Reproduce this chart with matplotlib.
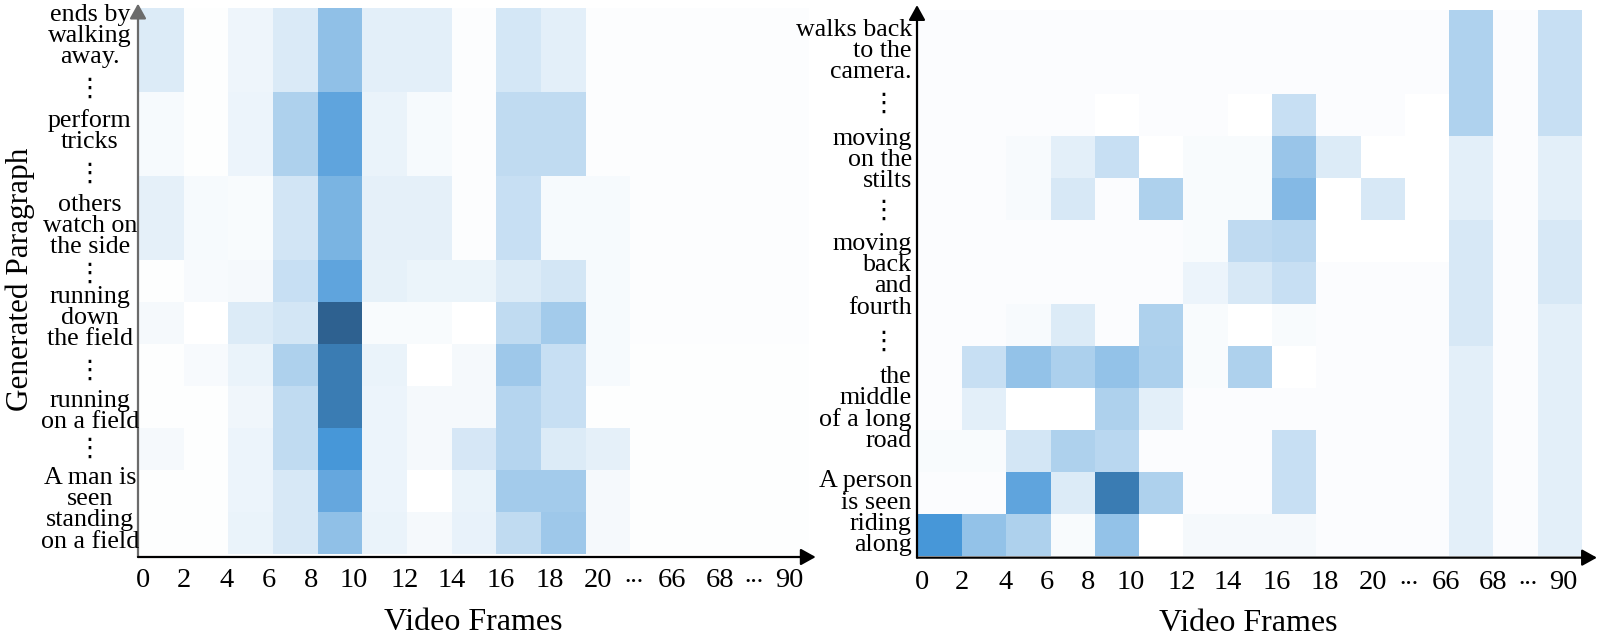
import numpy as np
import matplotlib
matplotlib.use("Agg")
import matplotlib.pyplot as plt
from matplotlib.colors import LinearSegmentedColormap

plt.rcParams['font.family'] = ['Liberation Serif', 'DejaVu Serif', 'DejaVu Sans']

# ---------------- data ----------------
frame_labels = ["0", "2", "4", "6", "8", "10", "12", "14", "16", "18", "20",
                "···", "66", "68", "···", "90"]

left_sentences = ["ends by\nwalking\naway.", "⋮", "perform\ntricks", "⋮",
                  "others\nwatch on\nthe side", "⋮", "running\ndown\nthe field", "⋮",
                  "running\non a field", "⋮", "A man is\nseen\nstanding\non a field"]
right_sentences = ["walks back\nto the\ncamera.", "⋮", "moving\non the\nstilts", "⋮",
                   "moving\nback\nand\nfourth", "⋮", "the\nmiddle\nof a long\nroad",
                   "A person\nis seen\nriding\nalong"]

# attention values (rows top -> bottom, 15 frame columns)
left_attention = [
    [11.5, 0.5, 5.5, 12, 36, 9, 9, 1, 14, 9, 1, 1, 1, 1, 1],
    [11.5, 0.5, 5.5, 12, 36, 9, 9, 1, 14, 9, 1, 1, 1, 1, 1],
    [3, 0.5, 6, 26.5, 52, 7, 3, 1, 20.5, 20.5, 1, 1, 1, 1, 1],
    [3, 0.5, 6, 26.5, 52, 7, 3, 1, 20.5, 20.5, 1, 1, 1, 1, 1],
    [8.5, 3, 2, 14.5, 43, 8.5, 8.5, 1, 18, 3, 3, 1, 1, 1, 1],
    [8.5, 3, 2, 14.5, 43, 8.5, 8.5, 1, 18, 3, 3, 1, 1, 1, 1],
    [0.5, 2.6, 3.3, 18, 52, 8, 6.5, 6.5, 11.5, 14.3, 3, 1, 1, 1, 1],
    [3.3, 0, 11.5, 14.3, 100, 2, 2, 0, 20.5, 30, 3, 1, 1, 1, 1],
    [0.5, 2.6, 7, 26.5, 80, 7, 0, 3.3, 31.5, 18, 3, 0.5, 0.5, 0.5, 0.5],
    [0.5, 0.5, 4.9, 20.5, 80, 6, 3.3, 3.3, 24, 18, 0.5, 0.5, 0.5, 0.5, 0.5],
    [3.3, 0.5, 6, 20.5, 60, 6, 3.3, 13.5, 24, 11.5, 8.5, 0.5, 0.5, 0.5, 0.5],
    [0.5, 0.5, 6, 13, 50, 6, 0, 7, 30, 30, 3.3, 0.5, 0.5, 0.5, 0.5],
    [0.5, 0.5, 7, 13, 36, 7, 3.3, 7.8, 20.5, 31.5, 3.3, 0.5, 0.5, 0.5, 0.5],
]

right_attention = [
    [1.3, 1.3, 1.3, 1.3, 1.3, 1.3, 1.3, 1.3, 1.3, 1.3, 1.3, 1.3, 26, 1.3, 18],
    [1.3, 1.3, 1.3, 1.3, 1.3, 1.3, 1.3, 1.3, 1.3, 1.3, 1.3, 1.3, 26, 1.3, 18],
    [1.3, 1.3, 1.3, 1.3, 0, 1.3, 1.3, 0, 18, 1.3, 1.3, 0, 26, 1.3, 18],
    [1.3, 1.3, 2.6, 9, 18, 0, 2.3, 2.3, 33, 11.5, 0, 0, 9, 1.3, 9],
    [1.3, 1.3, 2.6, 13, 1.5, 26.5, 2.3, 2.3, 40, 0, 13, 0, 9, 1.3, 9],
    [1.3, 1.3, 1.3, 1.3, 1.3, 1.3, 2.3, 21, 23, 0, 0, 0, 13, 1.3, 13],
    [1.3, 1.3, 1.3, 1.3, 1.3, 1.3, 6, 13, 18, 1.3, 1.3, 1.3, 13, 1.3, 13],
    [1.3, 1.3, 2.6, 11.5, 1.3, 26.5, 2.3, 0, 2.3, 1.3, 1.3, 1.3, 13, 1.3, 9],
    [1.3, 18, 35, 27, 35, 27, 2.3, 26.5, 0, 1.3, 1.3, 1.3, 9, 1.3, 9],
    [1.3, 9, 0, 0, 26.5, 9, 1.3, 1.3, 1.3, 1.3, 1.3, 1.3, 9, 1.3, 9],
    [2.3, 2.3, 14.3, 26.5, 23, 1.5, 1.3, 1.3, 18, 1.3, 1.3, 1.3, 9, 1.3, 9],
    [1.3, 1.3, 52, 11.5, 80, 26.5, 1.3, 1.3, 18, 1.3, 1.3, 1.3, 9, 1.3, 9],
    [60, 35, 26.5, 2.3, 35, 0, 3.3, 3.3, 3.3, 1.3, 1.3, 1.3, 9, 1.3, 9],
]

# ---------------- layout ----------------
W, H = 1598, 636
tick_pos = [0.1, 1.0, 1.97, 2.91, 3.85, 4.8, 5.95, 7.0, 8.1, 9.2, 10.27,
            11.08, 11.93, 13.0, 13.77, 14.57]
left_label_y = [12.33, 11.05, 10.07, 9.02, 7.81, 6.64, 5.62, 4.33, 3.40, 2.48, 1.05]
right_label_y = [12.02, 10.74, 9.43, 8.19, 6.67, 5.07, 3.5, 1.02]

cmap = LinearSegmentedColormap.from_list(
    "att", [(0.0, "#ffffff"), (0.6, "#4797d8"), (1.0, "#2e6190")])

fig = plt.figure(figsize=(W / 100, H / 100), dpi=100)

def px_axes(x0, y0, x1, y1):
    return fig.add_axes([x0 / W, 1 - y1 / H, (x1 - x0) / W, (y1 - y0) / H])

axL = px_axes(139, 8, 809, 554)
axR = px_axes(918, 10, 1582, 556)

label_fs = 18.7
tick_fs = 20.5

for ax, data, ell_y in [(axL, left_attention, -0.053), (axR, right_attention, -0.052)]:
    arr = np.array(data, dtype=float)
    nrows, ncols = arr.shape
    ax.imshow(arr, cmap=cmap, vmin=0, vmax=100, aspect="auto",
              extent=(0, ncols, 0, nrows), origin="upper", interpolation="nearest")
    ax.set_xlim(0, ncols)
    ax.set_ylim(0, nrows)
    for s in ax.spines.values():
        s.set_visible(False)
    ax.set_yticks([])
    ax.set_xticks(tick_pos)
    shown = [lab if lab != "···" else "" for lab in frame_labels]
    ax.set_xticklabels(shown, fontsize=tick_fs)
    ax.tick_params(axis="x", length=0, pad=10)
    for pos, lab in zip(tick_pos, frame_labels):
        if lab == "···":
            ax.text(pos, ell_y, lab, transform=ax.get_xaxis_transform(),
                    ha="center", va="center", fontsize=14, fontweight="bold",
                    clip_on=False)

# axis arrows
def arrow(ax, start, end, color):
    ax.annotate("", xy=end, xytext=start, xycoords="axes fraction",
                textcoords="axes fraction",
                arrowprops=dict(arrowstyle="-|>,head_length=0.45,head_width=0.25",
                                mutation_scale=20, lw=1.6, color=color,
                                shrinkA=0, shrinkB=0),
                annotation_clip=False)

arrow(axL, (-0.0015, -0.0055), (-0.0015, 1.008), "#6b6b6b")
arrow(axL, (-0.0015, -0.0055), (1.010, -0.0055), "black")
arrow(axR, (-0.0015, -0.003), (-0.0015, 1.009), "black")
arrow(axR, (-0.0015, -0.003), (1.0225, -0.003), "black")

# sentence labels
for txt, y in zip(left_sentences, left_label_y):
    axL.text(-1.10, y, txt, ha="center", va="center", multialignment="center",
             fontsize=label_fs, linespacing=0.95, clip_on=False)
for txt, y in zip(right_sentences, right_label_y):
    if txt == "⋮":
        axR.text(-0.79, y, txt, ha="center", va="center", fontsize=label_fs,
                 clip_on=False)
    else:
        axR.text(-0.14, y, txt, ha="right", va="center", multialignment="right",
                 fontsize=label_fs, linespacing=0.95, clip_on=False)

fig.text(20 / W, 1 - 279 / H, "Generated Paragraph", rotation=90,
         ha="center", va="center", fontsize=22.5)
fig.text(473 / W, 1 - 630 / H, "Video Frames", ha="center", va="baseline",
         fontsize=23)
fig.text(1248 / W, 1 - 631 / H, "Video Frames", ha="center", va="baseline",
         fontsize=23)

fig.savefig("out.png", dpi=100)
